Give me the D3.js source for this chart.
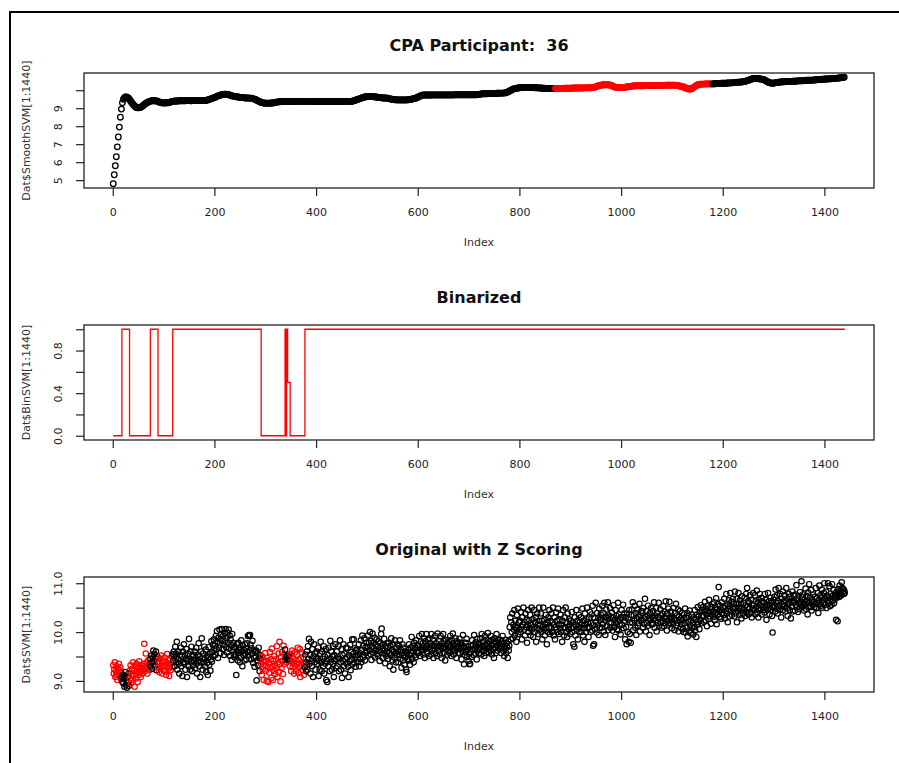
<!DOCTYPE html>
<html>
<head>
<meta charset="utf-8">
<script src="https://cdn.jsdelivr.net/npm/d3@7"></script>
<style>
body { margin: 0; background: #fff; }
svg { display: block; font-family: "DejaVu Sans", sans-serif; }
</style>
</head>
<body>
<div id="chart"></div>
<script>
// ---- data ----
var nObs = 1440;

// Dat$SmoothSVM, every 2nd index: 1, 3, 5, ... 1439
var smoothStep = 2;
var smoothSVM = [
4.8,5.3,5.8,6.3,6.85,7.4,7.95,8.5,8.95,9.3,
9.5,9.58,9.62,9.62,9.6,9.55,9.48,9.4,9.32,9.25,
9.18,9.12,9.07,9.03,9.02,9.02,9.03,9.05,9.08,9.12,
9.18,9.22,9.26,9.3,9.33,9.36,9.38,9.4,9.41,9.41,
9.41,9.41,9.4,9.4,9.38,9.35,9.32,9.3,9.3,9.3,
9.29,9.29,9.3,9.3,9.3,9.31,9.33,9.36,9.38,9.39,
9.39,9.4,9.4,9.4,9.4,9.41,9.41,9.41,9.41,9.41,
9.41,9.41,9.42,9.42,9.42,9.42,9.41,9.41,9.42,9.42,
9.42,9.42,9.42,9.42,9.42,9.42,9.42,9.42,9.43,9.43,
9.43,9.43,9.44,9.46,9.48,9.5,9.52,9.54,9.56,9.58,
9.6,9.63,9.66,9.68,9.7,9.72,9.74,9.76,9.77,9.78,
9.78,9.78,9.77,9.76,9.74,9.72,9.7,9.68,9.67,9.66,
9.65,9.64,9.63,9.62,9.61,9.6,9.6,9.6,9.59,9.58,
9.57,9.57,9.57,9.57,9.56,9.56,9.55,9.53,9.52,9.5,
9.48,9.45,9.42,9.39,9.36,9.33,9.31,9.3,9.29,9.28,
9.28,9.28,9.28,9.28,9.28,9.29,9.29,9.29,9.3,9.31,
9.33,9.34,9.35,9.36,9.36,9.37,9.37,9.37,9.37,9.37,
9.37,9.37,9.37,9.38,9.38,9.38,9.37,9.37,9.37,9.37,
9.37,9.37,9.37,9.37,9.38,9.38,9.38,9.38,9.38,9.38,
9.38,9.38,9.38,9.37,9.37,9.37,9.37,9.37,9.37,9.37,
9.37,9.37,9.37,9.37,9.37,9.37,9.37,9.37,9.37,9.37,
9.37,9.37,9.37,9.37,9.37,9.37,9.37,9.37,9.37,9.37,
9.37,9.37,9.37,9.37,9.37,9.37,9.37,9.37,9.37,9.38,
9.38,9.38,9.38,9.38,9.38,9.39,9.4,9.42,9.44,9.46,
9.48,9.5,9.52,9.54,9.56,9.58,9.6,9.62,9.63,9.64,
9.65,9.66,9.66,9.66,9.66,9.65,9.64,9.63,9.62,9.62,
9.61,9.6,9.6,9.59,9.58,9.57,9.57,9.57,9.57,9.56,
9.55,9.54,9.52,9.51,9.5,9.49,9.48,9.47,9.47,9.46,
9.46,9.46,9.46,9.46,9.46,9.46,9.46,9.46,9.46,9.46,
9.47,9.48,9.49,9.5,9.51,9.52,9.53,9.55,9.57,9.59,
9.62,9.65,9.68,9.7,9.72,9.73,9.73,9.73,9.73,9.73,
9.73,9.73,9.73,9.73,9.74,9.74,9.74,9.74,9.74,9.74,
9.74,9.74,9.74,9.74,9.74,9.74,9.74,9.74,9.74,9.74,
9.74,9.74,9.74,9.74,9.74,9.74,9.75,9.75,9.75,9.75,
9.75,9.75,9.75,9.75,9.75,9.75,9.75,9.75,9.75,9.75,
9.75,9.75,9.75,9.75,9.75,9.75,9.75,9.75,9.76,9.76,
9.77,9.78,9.79,9.8,9.8,9.8,9.8,9.8,9.8,9.81,
9.81,9.81,9.81,9.82,9.82,9.82,9.82,9.83,9.83,9.83,
9.83,9.84,9.84,9.84,9.84,9.85,9.86,9.88,9.9,9.93,
9.96,9.99,10.02,10.05,10.07,10.09,10.1,10.11,10.12,10.13,
10.14,10.15,10.15,10.16,10.16,10.16,10.16,10.16,10.16,10.16,
10.16,10.16,10.15,10.15,10.15,10.14,10.14,10.13,10.13,10.12,
10.12,10.12,10.11,10.11,10.11,10.1,10.1,10.1,10.1,10.1,
10.1,10.1,10.1,10.1,10.1,10.1,10.1,10.1,10.1,10.1,
10.1,10.1,10.1,10.1,10.11,10.11,10.11,10.11,10.11,10.11,
10.11,10.11,10.12,10.12,10.12,10.12,10.12,10.12,10.12,10.12,
10.12,10.12,10.12,10.13,10.13,10.13,10.13,10.13,10.14,10.14,
10.14,10.15,10.15,10.16,10.18,10.2,10.22,10.24,10.26,10.27,
10.28,10.29,10.3,10.3,10.3,10.3,10.3,10.3,10.29,10.28,
10.26,10.23,10.2,10.18,10.17,10.16,10.16,10.16,10.16,10.16,
10.16,10.16,10.16,10.16,10.17,10.18,10.19,10.2,10.2,10.21,
10.22,10.23,10.24,10.25,10.25,10.25,10.25,10.25,10.25,10.25,
10.25,10.25,10.25,10.26,10.26,10.26,10.26,10.26,10.26,10.26,
10.26,10.26,10.26,10.27,10.27,10.27,10.27,10.27,10.27,10.27,
10.27,10.27,10.27,10.28,10.28,10.28,10.28,10.28,10.28,10.28,
10.28,10.28,10.28,10.28,10.27,10.26,10.25,10.24,10.22,10.21,
10.2,10.18,10.15,10.12,10.1,10.08,10.07,10.07,10.07,10.08,
10.12,10.16,10.2,10.24,10.27,10.3,10.32,10.33,10.34,10.34,
10.34,10.34,10.35,10.35,10.35,10.35,10.35,10.35,10.35,10.35,
10.35,10.36,10.36,10.37,10.37,10.38,10.38,10.38,10.39,10.39,
10.39,10.39,10.39,10.39,10.4,10.4,10.4,10.41,10.41,10.41,
10.42,10.42,10.43,10.43,10.44,10.44,10.45,10.45,10.46,10.47,
10.48,10.49,10.5,10.52,10.54,10.56,10.58,10.6,10.62,10.64,
10.65,10.66,10.66,10.66,10.65,10.64,10.63,10.62,10.61,10.6,
10.58,10.55,10.52,10.49,10.46,10.43,10.41,10.4,10.39,10.39,
10.4,10.41,10.42,10.43,10.44,10.45,10.46,10.46,10.47,10.47,
10.47,10.48,10.48,10.48,10.48,10.49,10.49,10.49,10.5,10.5,
10.5,10.5,10.51,10.51,10.52,10.52,10.53,10.53,10.53,10.54,
10.54,10.54,10.55,10.55,10.55,10.55,10.56,10.56,10.56,10.57,
10.57,10.58,10.58,10.59,10.59,10.6,10.6,10.61,10.61,10.61,
10.62,10.62,10.62,10.63,10.63,10.64,10.64,10.65,10.65,10.66,
10.66,10.66,10.67,10.67,10.68,10.69,10.7,10.7,10.71,10.72
];
// index range drawn in red on the smoothed panel
var smoothRed = [870, 1180];

// Dat$BinSVM as runs: start index and value
var binStart = [1, 18, 33, 74, 89, 118, 292, 339, 341, 342, 344, 349, 378];
var binValue = [0, 1, 0, 1, 0, 1, 0, 1, 0, 1, 0.5, 0, 1];

// Dat$SVM, every index 1 ... 1440
var rawSVM = [
9.32,9.15,9.24,9.38,9.08,9.2,9.12,9.3,9.02,9.25,9.18,9.35,9.1,9.22,9.28,9.05,9.16,9.08,8.98,9.12,
8.95,9.05,8.88,9.1,9.18,8.92,9.0,8.86,9.08,8.96,9.15,8.9,9.2,9.05,9.32,8.95,9.12,9.25,9.02,9.38,
9.1,9.22,8.88,9.3,9.15,9.05,9.35,9.2,8.98,9.28,9.12,9.4,9.18,9.25,9.08,9.32,9.22,9.15,9.3,9.26,
9.35,9.76,9.2,9.3,9.56,9.25,9.38,9.15,9.28,9.42,9.32,9.22,9.36,9.45,9.3,9.52,9.38,9.25,9.48,9.62,
9.4,9.55,9.32,9.45,9.6,9.22,9.38,9.5,9.28,9.4,9.18,9.35,9.45,9.25,9.52,9.3,9.15,9.38,9.42,9.22,
9.32,9.48,9.2,9.38,9.12,9.28,9.55,9.35,9.25,9.42,9.1,9.3,9.45,9.22,9.36,9.5,9.28,9.55,9.42,9.6,
9.5,9.3,9.7,9.56,9.38,9.8,9.23,9.45,9.6,9.35,9.15,9.53,9.41,9.68,9.3,9.5,9.1,9.6,9.38,9.75,
9.35,9.53,9.23,9.45,9.65,9.08,9.41,9.56,9.3,9.86,9.44,9.23,9.6,9.38,9.7,9.2,9.5,9.32,9.53,9.41,
9.6,9.26,9.47,9.68,9.35,9.15,9.53,9.41,9.77,9.3,9.5,9.08,9.38,9.6,9.87,9.45,9.23,9.56,9.38,9.7,
9.44,9.29,9.64,9.18,9.51,9.37,9.12,9.48,9.69,9.33,9.55,9.21,9.44,9.81,9.39,9.59,9.74,9.51,9.85,9.66,
9.72,9.53,9.92,9.65,10.02,9.8,9.47,9.88,9.68,10.05,9.77,9.57,9.95,9.83,10.06,9.65,9.92,9.74,9.53,9.98,
9.81,10.06,9.69,9.88,9.58,9.99,9.78,10.05,9.66,9.93,9.51,9.84,9.73,9.43,9.96,9.63,9.78,9.54,9.69,9.48,
9.68,9.53,9.12,9.75,9.6,9.42,9.78,9.57,9.68,9.38,9.63,9.48,9.83,9.6,9.3,9.72,9.53,9.63,9.42,9.75,
9.56,9.67,9.44,9.77,9.59,9.92,9.52,9.94,9.62,9.94,9.74,9.44,9.67,9.56,9.82,9.37,9.62,9.47,9.29,9.59,
9.5,9.62,9.01,9.42,9.58,9.32,9.68,9.47,9.2,9.53,9.45,9.35,9.12,9.5,9.24,9.39,9.02,9.42,9.32,9.57,
9.21,9.41,9.0,9.47,9.29,8.98,9.36,9.17,9.59,9.26,9.44,9.06,9.66,9.29,9.02,9.41,9.21,9.51,9.32,9.14,
9.44,9.26,9.71,9.08,9.38,9.56,9.19,9.8,9.34,8.99,9.49,9.26,9.59,9.41,9.14,9.72,9.34,9.53,9.64,9.44,
9.38,9.5,9.46,9.52,9.44,9.48,9.5,9.42,9.3,9.55,9.2,9.4,9.62,9.28,9.45,9.35,9.15,9.58,9.3,9.42,
9.2,9.54,9.35,9.68,9.16,9.43,9.28,9.65,9.08,9.46,9.32,9.58,9.23,9.38,9.48,9.12,9.35,9.28,9.54,9.2,
9.38,9.6,9.23,9.71,9.45,9.86,9.35,9.53,9.15,9.8,9.41,9.3,9.65,9.08,9.5,9.75,9.38,9.56,9.23,9.45,
9.6,9.35,9.45,9.68,9.1,9.41,9.23,9.56,9.8,9.38,9.2,9.6,9.45,9.3,9.71,9.15,9.5,9.35,9.65,9.02,
9.41,8.98,9.53,9.3,9.68,9.45,9.2,9.82,9.38,9.6,9.23,9.5,9.71,9.35,9.08,9.53,9.41,9.75,9.26,9.45,
9.6,9.3,9.48,9.71,9.2,9.45,9.83,9.38,9.23,9.65,9.06,9.53,9.41,9.75,9.3,9.56,9.15,9.45,9.68,9.35,
9.48,9.67,9.29,9.08,9.52,9.4,9.74,9.22,9.59,9.44,9.85,9.34,9.55,9.85,9.37,9.67,9.49,9.29,9.64,9.52,
9.63,9.38,9.53,9.75,9.3,9.57,9.45,9.83,9.38,9.63,9.93,9.48,9.72,9.53,9.87,9.42,9.68,9.57,9.78,9.6,
9.7,9.93,9.52,9.78,9.63,10.0,9.55,9.82,9.43,9.7,9.97,9.58,9.78,9.67,9.88,9.48,9.73,9.63,9.85,9.55,
9.7,9.51,9.81,9.62,9.41,9.77,9.59,9.96,10.07,9.66,9.47,9.74,9.56,9.86,9.62,9.36,9.71,9.51,9.77,9.59,
9.68,9.45,9.78,9.57,9.3,9.72,9.53,9.87,9.63,9.42,9.75,9.23,9.6,9.48,9.83,9.57,9.38,9.68,9.53,9.75,
9.6,9.38,9.72,9.53,9.83,9.45,9.63,9.27,9.57,9.75,9.42,9.68,9.53,9.33,9.6,9.48,9.23,9.18,9.57,9.45,
9.63,9.42,9.75,9.53,9.33,9.68,9.57,9.9,9.45,9.72,9.6,9.38,9.78,9.53,9.68,9.48,9.83,9.6,9.72,9.57,
9.72,9.57,9.92,9.69,9.51,9.81,9.66,9.96,9.62,9.77,9.54,9.87,9.69,9.47,9.81,9.66,9.96,9.72,9.57,9.84,
9.69,9.51,9.87,9.66,9.77,9.54,9.96,9.72,9.62,9.84,9.47,9.72,9.66,9.92,9.57,9.77,9.69,9.51,9.97,9.69,
9.62,9.81,9.72,9.54,9.92,9.69,9.47,9.77,9.66,9.96,9.57,9.81,9.69,9.42,9.84,9.66,9.77,9.54,9.72,9.62,
9.81,9.69,9.57,9.92,9.72,9.51,9.84,9.66,9.97,9.77,9.54,9.72,9.62,9.87,9.69,9.47,9.81,9.66,9.77,9.57,
9.71,9.86,9.56,9.78,9.68,9.44,9.74,9.59,9.94,9.71,9.34,9.68,9.53,9.78,9.59,9.86,9.49,9.71,9.64,9.41,
9.56,9.34,9.35,9.59,9.71,9.49,9.83,9.64,9.74,9.53,9.94,9.68,9.56,9.79,9.71,9.44,9.86,9.64,9.74,9.56,
9.77,9.66,9.87,9.69,9.54,9.96,9.72,9.62,9.81,9.69,9.51,9.92,9.72,9.57,9.84,9.77,9.66,9.98,9.69,9.57,
9.81,9.69,9.62,9.92,9.72,9.54,9.84,9.66,9.77,9.47,9.87,9.69,9.81,9.57,9.96,9.72,9.62,9.84,9.69,9.77,
9.66,9.84,9.72,9.57,9.81,9.69,9.92,9.62,9.77,9.51,9.72,9.66,9.84,9.57,9.77,9.69,9.47,9.81,9.62,9.72,
10.1,10.3,9.85,10.2,10.0,10.38,9.87,10.15,10.05,10.45,9.93,10.23,10.1,9.8,10.35,10.08,10.48,9.96,10.2,10.05,
10.23,10.0,10.41,10.1,9.85,10.3,10.15,10.5,10.05,10.2,9.93,10.38,10.1,10.25,9.78,10.15,10.45,10.0,10.23,10.08,
10.35,9.93,10.15,10.5,10.05,10.26,9.9,10.1,10.45,10.0,10.2,10.3,9.8,10.08,10.38,10.15,9.96,10.23,10.5,10.05,
10.15,10.38,10.0,10.23,9.85,10.1,10.5,10.05,10.26,9.93,10.15,10.35,10.08,9.75,10.2,10.0,10.3,10.1,10.45,9.96,
10.23,10.08,10.38,10.0,10.2,10.5,9.93,10.15,10.3,9.85,10.1,10.4,10.05,10.23,10.0,10.48,10.15,9.96,10.26,10.08,
10.35,10.0,10.15,9.8,10.23,10.45,10.08,9.93,10.3,10.1,10.5,10.0,10.2,9.9,10.38,10.1,10.05,10.26,10.15,9.96,
10.23,10.08,10.41,10.0,10.2,9.75,10.1,9.7,10.3,9.93,10.15,10.45,10.05,10.23,9.85,10.1,10.35,10.0,10.2,10.08,
10.3,10.0,10.15,10.48,9.93,10.23,10.08,9.8,10.38,10.15,10.0,10.26,10.5,10.08,10.2,9.9,10.3,10.1,10.41,10.0,
10.18,10.36,10.03,10.54,9.72,10.14,9.75,10.29,10.06,10.6,10.21,9.99,10.39,10.14,10.29,9.94,10.48,10.09,10.24,10.36,
10.28,10.09,10.54,10.16,10.39,10.01,10.6,10.24,9.94,10.31,10.46,10.13,10.28,10.61,10.04,10.34,10.19,10.49,10.09,10.31,
10.18,10.4,10.03,10.3,10.55,10.1,10.25,9.9,10.45,10.18,10.33,10.06,10.21,10.6,10.03,10.36,10.15,10.25,9.95,10.3,
10.45,10.15,10.3,10.56,10.08,10.38,10.23,9.85,10.3,10.1,9.75,10.38,10.0,10.26,9.8,10.45,9.96,10.2,9.78,10.35,
10.46,10.19,10.61,10.04,10.34,10.24,10.54,10.09,10.39,9.94,10.28,10.46,10.13,10.31,10.19,10.58,10.01,10.34,10.24,10.43,
10.24,10.39,10.09,10.49,10.28,10.16,10.68,10.31,10.01,10.43,10.19,10.34,10.54,10.13,10.28,9.94,10.39,10.24,10.49,10.16,
10.31,10.16,10.43,10.28,10.61,10.09,10.34,10.24,10.49,10.01,10.39,10.19,10.31,10.6,10.13,10.28,10.46,10.19,10.34,10.09,
10.38,10.23,10.53,10.12,10.3,10.42,10.18,10.63,10.27,10.03,10.38,10.23,10.48,10.15,10.62,10.3,10.18,10.42,10.27,10.08,
10.31,10.16,10.49,10.28,10.04,10.39,10.24,10.58,10.13,10.34,10.19,10.46,10.01,10.31,10.24,10.43,10.09,10.28,10.16,10.39,
10.24,10.06,10.0,10.36,10.18,10.48,9.99,10.29,10.09,10.39,9.91,10.21,10.33,10.03,10.44,10.14,9.98,10.24,10.36,10.09,
10.18,9.95,10.3,10.1,10.45,10.03,10.25,9.9,10.36,10.15,10.51,10.2,10.33,10.06,10.4,10.25,10.55,10.18,10.45,10.33,
10.32,10.51,10.21,10.42,10.62,10.24,10.47,10.36,10.12,10.54,10.39,10.27,10.66,10.42,10.32,10.51,10.17,10.47,10.36,10.57,
10.42,10.31,10.61,10.24,10.51,10.39,10.69,10.16,10.46,10.36,10.57,10.92,10.42,10.31,10.54,10.46,10.27,10.61,10.39,10.51,
10.5,10.35,10.68,10.28,10.53,10.43,10.78,10.38,10.58,10.2,10.47,10.65,10.32,10.53,10.8,10.43,10.62,10.35,10.5,10.68,
10.47,10.58,10.32,10.83,10.5,10.38,10.68,10.2,10.58,10.43,10.8,10.5,10.35,10.65,10.47,10.58,10.28,10.73,10.5,10.38,
10.6,10.45,10.7,10.33,10.55,10.78,10.4,10.9,10.51,10.63,10.36,10.6,10.48,10.75,10.4,10.66,10.3,10.55,10.48,10.8,
10.55,10.45,10.75,10.36,10.63,10.51,10.85,10.4,10.6,10.3,10.66,10.48,10.78,10.45,10.55,10.7,10.36,10.63,10.51,10.45,
10.6,10.4,10.78,10.51,10.66,10.25,10.55,10.45,10.8,10.48,10.63,10.36,10.55,10.7,10.45,10.6,10.33,9.99,10.51,10.66,
10.53,10.72,10.42,10.87,10.6,10.48,10.75,10.38,10.63,10.9,10.53,10.45,10.78,10.6,10.3,10.68,10.57,10.83,10.45,10.63,
10.53,10.75,10.42,10.63,10.9,10.48,10.68,10.33,10.57,10.78,10.6,10.45,10.72,10.28,10.63,10.53,10.83,10.42,10.6,10.75,
10.62,10.44,10.77,10.56,10.96,10.52,10.67,10.41,10.74,10.59,10.47,10.82,10.62,10.56,11.04,10.71,10.52,10.77,10.59,10.44,
10.66,10.56,10.89,10.47,10.74,10.62,10.36,10.81,10.59,10.98,10.51,10.71,10.62,10.86,10.44,10.66,10.56,10.77,10.62,10.51,
10.72,10.57,10.9,10.5,10.69,10.6,10.8,10.39,10.65,10.95,10.57,10.75,10.54,10.69,10.87,10.5,10.65,10.6,10.8,11.0,
10.68,10.56,10.83,10.49,10.74,10.64,11.0,10.59,10.71,10.94,10.53,10.68,10.79,10.56,10.98,10.74,10.64,10.86,10.59,10.71,
10.75,10.68,10.25,10.82,10.72,10.22,10.88,10.78,10.72,10.95,10.8,10.85,10.75,11.02,10.9,10.82,10.88,10.78,10.85,10.8
];

// axis ticks and labels
var xTicks = [0, 200, 400, 600, 800, 1000, 1200, 1400];
var yTicks1 = [5, 6, 7, 8, 9, 10];
var yLabels1 = ["5", "6", "7", "8", "9", ""];
var yTicks2 = [0, 0.2, 0.4, 0.6, 0.8, 1];
var yLabels2 = ["0.0", "", "0.4", "", "0.8", ""];
var yTicks3 = [9, 9.5, 10, 10.5, 11];
var yLabels3 = ["9.0", "", "10.0", "", "11.0"];

var titles = ["CPA Participant:  36", "Binarized", "Original with Z Scoring"];
var yNames = ["Dat$SmoothSVM[1:1440]", "Dat$BinSVM[1:1440]", "Dat$SVM[1:1440]"];
var xName = "Index";

// ---- layout ----
var width = 899, height = 763;
var left = 84, right = 874;
var panelTop = [73, 325, 577], panelH = 115;
var red = "#ff0000";

var svg = d3.select("#chart").append("svg")
    .attr("width", width)
    .attr("height", height);

// outer frame (top and left edges only)
svg.append("path")
    .attr("d", "M10," + height + "V12H" + width)
    .attr("fill", "none")
    .attr("stroke", "#000")
    .attr("stroke-width", 2);

// R style 4% padding
function rPad(ext){
    var p = 0.04 * (ext[1] - ext[0]);
    return [ext[0] - p, ext[1] + p];
}

var x = d3.scaleLinear().domain(rPad([1, nObs])).range([left, right]);

function binAt(i){
    var v = binValue[0];
    for(var k = 0; k < binStart.length; k++){
        if(binStart[k] <= i) v = binValue[k];
    }
    return v;
}

function drawFrame(p, y, yTicks, yLabels){
    var top = panelTop[p];
    var g = svg.append("g");

    // x axis
    var xa = g.append("g")
        .attr("transform", "translate(0," + (top + panelH) + ")")
        .call(d3.axisBottom(x).tickValues(xTicks).tickSize(8).tickFormat(d3.format("d")));
    xa.select(".domain").remove();
    xa.selectAll("line").attr("stroke", "#222").attr("stroke-width", 1.2);
    xa.selectAll("text")
        .attr("y", 28).attr("dy", 0)
        .attr("fill", "#222")
        .style("font-size", "11px")
        .style("font-family", "DejaVu Sans, sans-serif");

    // y axis, labels parallel to the axis
    var ya = g.append("g")
        .attr("transform", "translate(" + left + ",0)")
        .call(d3.axisLeft(y).tickValues(yTicks).tickSize(8)
            .tickFormat(function(d, i){ return yLabels[i]; }));
    ya.select(".domain").remove();
    ya.selectAll("line").attr("stroke", "#222").attr("stroke-width", 1.2);
    ya.selectAll("text")
        .attr("x", 0).attr("y", -22).attr("dy", 0)
        .attr("transform", "rotate(-90)")
        .attr("text-anchor", "middle")
        .attr("fill", "#222")
        .style("font-size", "11px")
        .style("font-family", "DejaVu Sans, sans-serif");

    // box
    g.append("rect")
        .attr("x", left).attr("y", top)
        .attr("width", right - left).attr("height", panelH)
        .attr("fill", "none")
        .attr("stroke", "#222")
        .attr("stroke-width", 1.3);

    // title
    g.append("text")
        .attr("x", (left + right) / 2).attr("y", top - 22)
        .attr("text-anchor", "middle")
        .style("font-weight", "bold")
        .style("font-size", "16px")
        .style("white-space", "pre")
        .attr("fill", "#111")
        .text(titles[p]);

    // x name
    g.append("text")
        .attr("x", (left + right) / 2).attr("y", top + panelH + 58)
        .attr("text-anchor", "middle")
        .style("font-size", "11px")
        .attr("fill", "#333")
        .text(xName);

    // y name
    g.append("text")
        .attr("transform", "translate(30," + (top + panelH / 2) + ") rotate(-90)")
        .attr("text-anchor", "middle")
        .style("font-size", "11px")
        .attr("fill", "#333")
        .text(yNames[p]);

    return g;
}

// ---- panel 1: smoothed ----
var y1 = d3.scaleLinear().domain(rPad(d3.extent(smoothSVM)))
    .range([panelTop[0] + panelH, panelTop[0]]);
var g1 = drawFrame(0, y1, yTicks1, yLabels1);
g1.selectAll("circle.smooth")
    .data(smoothSVM)
    .enter().append("circle")
        .attr("class", "smooth")
        .attr("cx", function(d, i){ return x(1 + i * smoothStep); })
        .attr("cy", function(d){ return y1(d); })
        .attr("r", 2.8)
        .attr("fill", "none")
        .attr("stroke", function(d, i){
            var k = 1 + i * smoothStep;
            return (k >= smoothRed[0] && k <= smoothRed[1]) ? red : "#000";
        })
        .attr("stroke-width", 1.3);

// ---- panel 2: binarized ----
var y2 = d3.scaleLinear().domain(rPad([0, 1]))
    .range([panelTop[1] + panelH, panelTop[1]]);
var g2 = drawFrame(1, y2, yTicks2, yLabels2);
var binPts = binStart.map(function(s, i){ return {x: s, y: binValue[i]}; });
binPts.push({x: nObs, y: binValue[binValue.length - 1]});
g2.append("path")
    .datum(binPts)
    .attr("d", d3.line()
        .x(function(d){ return x(d.x); })
        .y(function(d){ return y2(d.y); })
        .curve(d3.curveStepAfter))
    .attr("fill", "none")
    .attr("stroke", red)
    .attr("stroke-width", 1.3);

// ---- panel 3: original ----
var y3 = d3.scaleLinear().domain(rPad(d3.extent(rawSVM)))
    .range([panelTop[2] + panelH, panelTop[2]]);
var g3 = drawFrame(2, y3, yTicks3, yLabels3);
g3.selectAll("circle.raw")
    .data(rawSVM)
    .enter().append("circle")
        .attr("class", "raw")
        .attr("cx", function(d, i){ return x(i + 1); })
        .attr("cy", function(d){ return y3(d); })
        .attr("r", 2.7)
        .attr("fill", "none")
        .attr("stroke", function(d, i){
            return binAt(i + 1) === 0 ? red : "#000";
        })
        .attr("stroke-width", 1.2);
</script>
</body>
</html>
